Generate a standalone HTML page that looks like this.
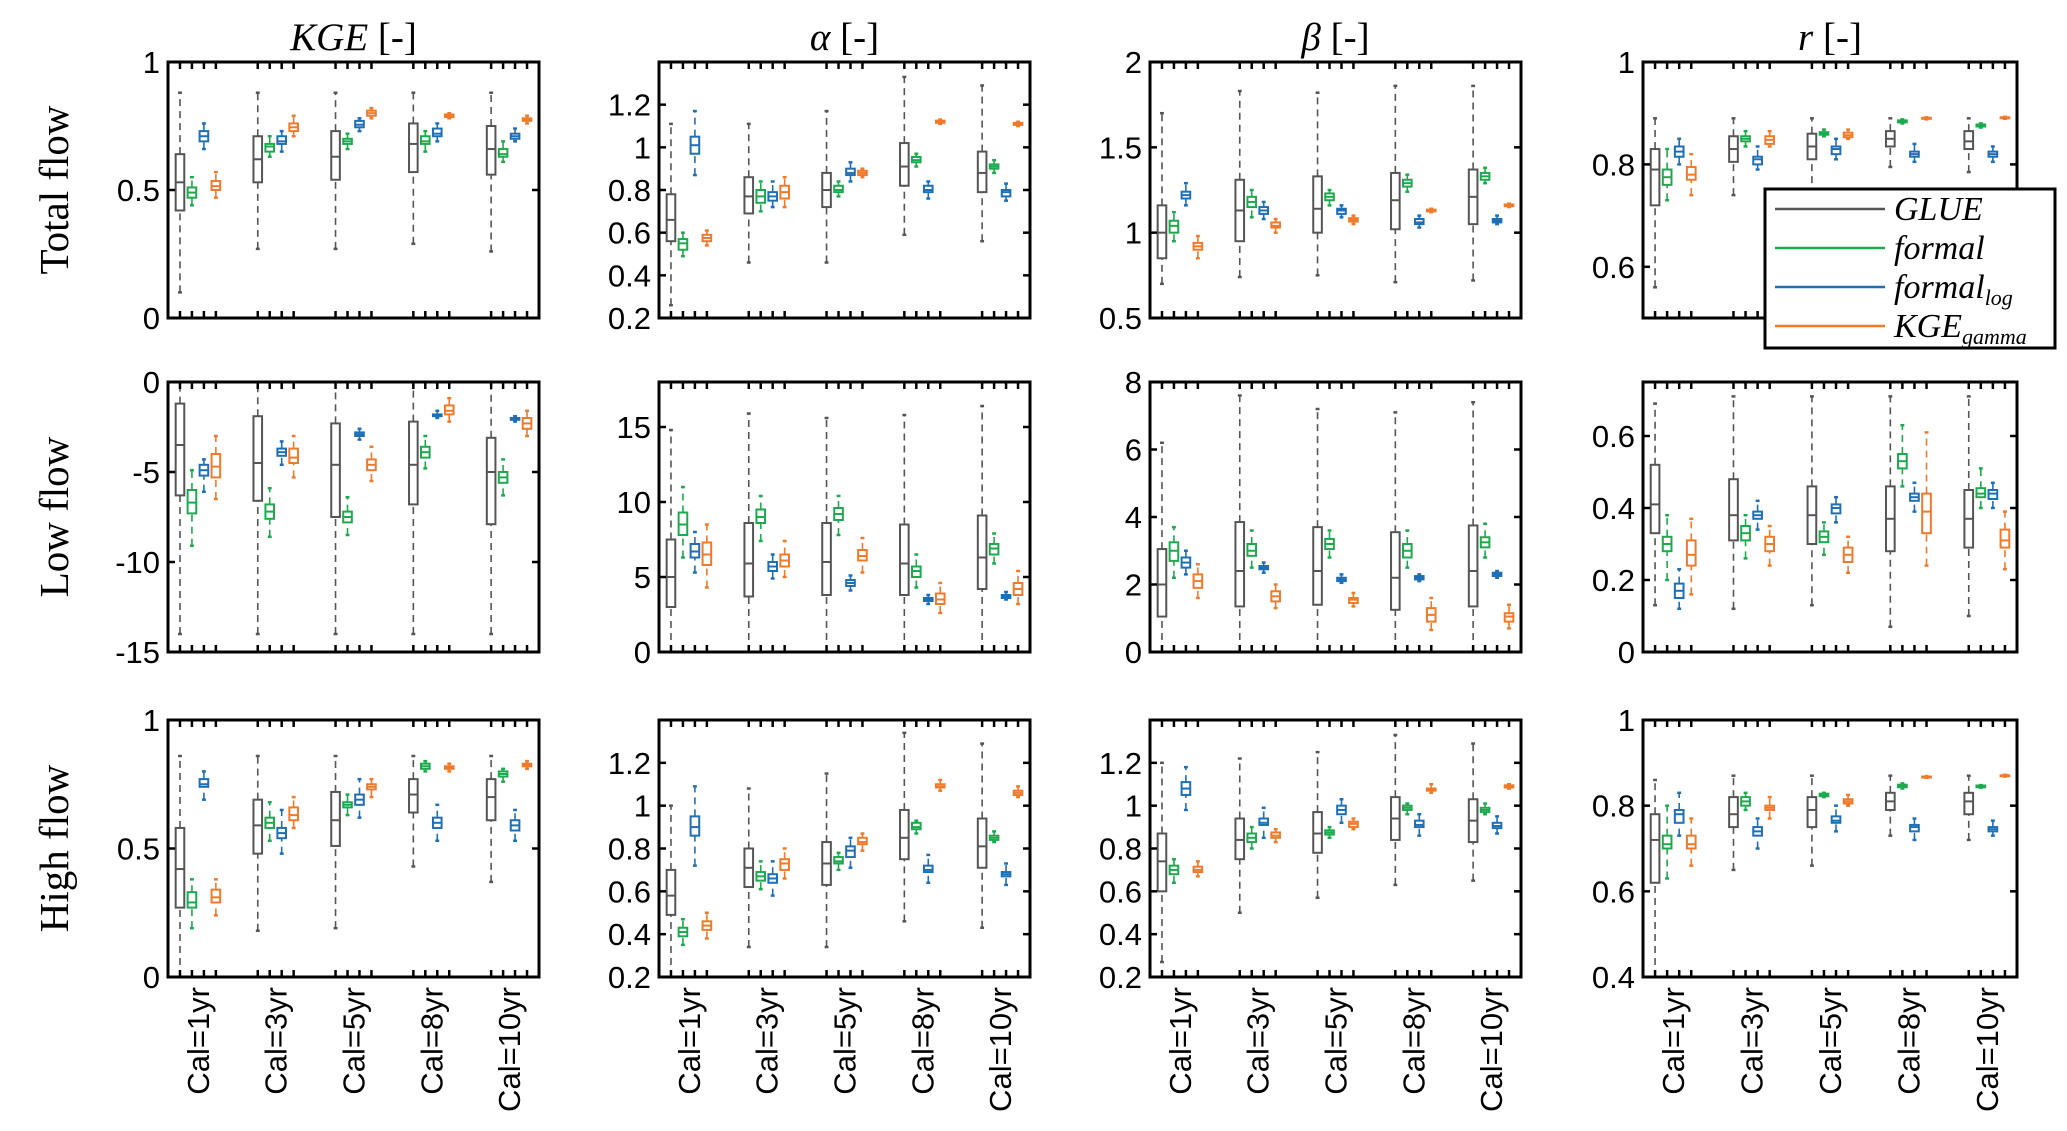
<!DOCTYPE html>
<html><head><meta charset="utf-8"><style>
html,body{margin:0;padding:0;background:#fff;}
svg{display:block;}
</style></head><body>
<svg id="chart" xmlns="http://www.w3.org/2000/svg" width="2067" height="1131" viewBox="0 0 2067 1131"></svg>
<script>
// ----- Data: [whiskerLow, q1, median, q3, whiskerHigh] per calibration group -----
const groups = ["Cal=1yr","Cal=3yr","Cal=5yr","Cal=8yr","Cal=10yr"];
const methods = ["GLUE","formal","formal_log","KGE_gamma"];
const rowNames = ["Total flow","Low flow","High flow"];

// Total flow - KGE
const totKGE_GLUE = [[0.10,0.42,0.53,0.64,0.88],[0.27,0.53,0.62,0.71,0.88],[0.27,0.54,0.63,0.73,0.88],[0.29,0.57,0.68,0.76,0.88],[0.26,0.56,0.66,0.75,0.88]];
const totKGE_formal = [[0.44,0.47,0.49,0.51,0.55],[0.63,0.65,0.67,0.68,0.71],[0.66,0.68,0.69,0.70,0.72],[0.65,0.68,0.69,0.71,0.73],[0.61,0.63,0.64,0.66,0.69]];
const totKGE_log = [[0.66,0.69,0.71,0.73,0.76],[0.65,0.68,0.69,0.71,0.73],[0.73,0.745,0.755,0.77,0.78],[0.69,0.71,0.72,0.74,0.76],[0.69,0.70,0.71,0.72,0.74]];
const totKGE_gamma = [[0.47,0.50,0.515,0.535,0.57],[0.71,0.73,0.745,0.76,0.79],[0.78,0.79,0.80,0.81,0.82],[0.78,0.785,0.79,0.795,0.80],[0.76,0.77,0.775,0.78,0.79]];
// Total flow - alpha
const totA_GLUE = [[0.26,0.56,0.66,0.78,1.11],[0.46,0.69,0.77,0.86,1.11],[0.46,0.72,0.80,0.88,1.17],[0.59,0.82,0.91,1.02,1.33],[0.56,0.79,0.88,0.98,1.29]];
const totA_formal = [[0.49,0.52,0.55,0.57,0.60],[0.70,0.74,0.77,0.80,0.84],[0.77,0.79,0.80,0.82,0.84],[0.91,0.93,0.94,0.955,0.97],[0.88,0.90,0.91,0.92,0.94]];
const totA_log = [[0.87,0.97,1.01,1.05,1.17],[0.72,0.75,0.77,0.79,0.84],[0.84,0.87,0.88,0.90,0.93],[0.76,0.79,0.80,0.82,0.84],[0.75,0.77,0.79,0.80,0.83]];
const totA_gamma = [[0.54,0.56,0.575,0.59,0.61],[0.72,0.76,0.79,0.82,0.86],[0.86,0.87,0.88,0.89,0.90],[1.11,1.115,1.12,1.125,1.13],[1.10,1.105,1.11,1.115,1.12]];
// Total flow - beta
const totB_GLUE = [[0.70,0.85,1.00,1.16,1.70],[0.74,0.95,1.13,1.31,1.83],[0.75,1.00,1.14,1.33,1.82],[0.71,1.02,1.19,1.35,1.86],[0.72,1.05,1.21,1.37,1.86]];
const totB_formal = [[0.95,1.00,1.04,1.07,1.12],[1.09,1.15,1.18,1.21,1.25],[1.16,1.19,1.21,1.23,1.25],[1.24,1.27,1.29,1.31,1.34],[1.29,1.31,1.33,1.35,1.38]];
const totB_log = [[1.16,1.20,1.22,1.24,1.29],[1.08,1.11,1.13,1.15,1.18],[1.09,1.11,1.13,1.14,1.16],[1.03,1.05,1.06,1.08,1.10],[1.05,1.06,1.07,1.08,1.10]];
const totB_gamma = [[0.85,0.90,0.92,0.94,0.98],[1.00,1.03,1.04,1.06,1.08],[1.05,1.065,1.075,1.085,1.10],[1.12,1.125,1.13,1.135,1.14],[1.15,1.155,1.16,1.165,1.17]];
// Total flow - r
const totR_GLUE = [[0.56,0.72,0.79,0.83,0.89],[0.74,0.805,0.83,0.855,0.89],[0.74,0.81,0.835,0.86,0.89],[0.795,0.835,0.85,0.865,0.89],[0.785,0.83,0.845,0.865,0.89]];
const totR_formal = [[0.73,0.76,0.775,0.79,0.83],[0.835,0.845,0.85,0.855,0.865],[0.855,0.858,0.86,0.863,0.868],[0.88,0.882,0.884,0.886,0.888],[0.872,0.874,0.876,0.878,0.88]];
const totR_log = [[0.80,0.815,0.825,0.835,0.85],[0.79,0.80,0.81,0.815,0.835],[0.81,0.82,0.83,0.835,0.85],[0.805,0.815,0.82,0.825,0.84],[0.805,0.815,0.82,0.825,0.835]];
const totR_gamma = [[0.74,0.77,0.78,0.795,0.82],[0.835,0.84,0.848,0.855,0.865],[0.85,0.853,0.857,0.862,0.868],[0.888,0.889,0.89,0.891,0.892],[0.889,0.89,0.891,0.892,0.893]];
// Low flow - KGE
const lowKGE_GLUE = [[-14,-6.3,-3.5,-1.2,0],[-14,-6.6,-4.5,-1.9,0],[-14,-7.5,-4.6,-2.3,0],[-14,-6.8,-4.6,-2.2,0],[-14,-7.9,-5.0,-3.1,0]];
const lowKGE_formal = [[-9.1,-7.3,-6.7,-6.0,-4.9],[-8.6,-7.6,-7.2,-6.8,-5.9],[-8.5,-7.8,-7.5,-7.2,-6.4],[-4.8,-4.2,-3.9,-3.6,-3.0],[-6.3,-5.6,-5.3,-5.0,-4.3]];
const lowKGE_log = [[-6.1,-5.2,-4.9,-4.6,-4.3],[-4.6,-4.1,-3.9,-3.7,-3.3],[-3.2,-3.0,-2.9,-2.8,-2.6],[-2.0,-1.9,-1.85,-1.8,-1.6],[-2.2,-2.1,-2.05,-2.0,-1.9]];
const lowKGE_gamma = [[-6.5,-5.3,-4.7,-4.0,-3.0],[-5.3,-4.5,-4.2,-3.7,-3.0],[-5.5,-4.9,-4.6,-4.3,-3.6],[-2.2,-1.8,-1.6,-1.3,-0.9],[-3.0,-2.6,-2.3,-2.0,-1.6]];
// Low flow - alpha
const lowA_GLUE = [[0,3.0,5.0,7.5,14.8],[0,3.7,5.9,8.6,15.9],[0,3.8,6.0,8.6,15.6],[0,3.8,5.9,8.5,15.8],[0,4.2,6.3,9.1,16.4]];
const lowA_formal = [[6.3,7.8,8.5,9.3,11.0],[7.4,8.6,9.0,9.5,10.4],[7.8,8.8,9.2,9.6,10.4],[4.3,5.0,5.4,5.7,6.5],[5.9,6.5,6.9,7.2,7.9]];
const lowA_log = [[5.3,6.3,6.7,7.2,8.0],[4.9,5.4,5.7,6.0,6.5],[4.1,4.4,4.6,4.8,5.1],[3.2,3.4,3.5,3.6,3.8],[3.5,3.6,3.7,3.8,4.0]];
const lowA_gamma = [[4.3,5.8,6.5,7.3,8.5],[5.0,5.7,6.1,6.5,7.4],[5.3,6.1,6.4,6.8,7.6],[2.6,3.2,3.5,3.9,4.6],[3.2,3.8,4.2,4.6,5.4]];
// Low flow - beta
const lowB_GLUE = [[0,1.05,2.0,3.05,6.2],[0,1.35,2.4,3.85,7.6],[0,1.4,2.4,3.7,7.2],[0,1.25,2.2,3.55,7.1],[0,1.35,2.4,3.75,7.4]];
const lowB_formal = [[2.2,2.7,3.0,3.25,3.7],[2.5,2.85,3.0,3.2,3.6],[2.8,3.05,3.2,3.35,3.6],[2.5,2.8,3.0,3.2,3.6],[2.8,3.1,3.25,3.4,3.8]];
const lowB_log = [[2.3,2.5,2.65,2.8,3.0],[2.35,2.45,2.5,2.55,2.65],[2.05,2.1,2.15,2.2,2.3],[2.1,2.15,2.2,2.25,2.3],[2.2,2.25,2.3,2.35,2.4]];
const lowB_gamma = [[1.6,1.9,2.1,2.3,2.6],[1.3,1.5,1.65,1.8,2.0],[1.35,1.45,1.55,1.6,1.75],[0.65,0.9,1.1,1.3,1.6],[0.7,0.9,1.05,1.15,1.4]];
// Low flow - r
const lowR_GLUE = [[0.13,0.33,0.41,0.52,0.69],[0.12,0.31,0.38,0.48,0.71],[0.13,0.30,0.38,0.46,0.71],[0.07,0.28,0.37,0.46,0.71],[0.10,0.29,0.37,0.45,0.71]];
const lowR_formal = [[0.20,0.28,0.30,0.32,0.38],[0.26,0.31,0.33,0.35,0.38],[0.27,0.305,0.32,0.335,0.36],[0.46,0.51,0.53,0.55,0.63],[0.40,0.43,0.44,0.455,0.51]];
const lowR_log = [[0.12,0.15,0.17,0.19,0.23],[0.34,0.37,0.38,0.39,0.42],[0.36,0.385,0.40,0.41,0.43],[0.39,0.42,0.43,0.44,0.47],[0.40,0.425,0.44,0.45,0.47]];
const lowR_gamma = [[0.16,0.24,0.27,0.31,0.37],[0.24,0.28,0.30,0.32,0.35],[0.22,0.25,0.27,0.29,0.32],[0.24,0.33,0.39,0.44,0.61],[0.23,0.29,0.31,0.34,0.39]];
// High flow - KGE
const hiKGE_GLUE = [[0,0.27,0.42,0.58,0.86],[0.18,0.48,0.59,0.69,0.86],[0.19,0.51,0.61,0.72,0.86],[0.43,0.64,0.71,0.77,0.86],[0.37,0.61,0.70,0.77,0.86]];
const hiKGE_formal = [[0.19,0.27,0.29,0.33,0.38],[0.53,0.58,0.60,0.62,0.68],[0.63,0.66,0.67,0.68,0.71],[0.80,0.81,0.82,0.83,0.84],[0.76,0.78,0.79,0.80,0.81]];
const hiKGE_log = [[0.69,0.74,0.75,0.77,0.80],[0.48,0.54,0.56,0.58,0.65],[0.62,0.67,0.69,0.71,0.77],[0.53,0.58,0.60,0.62,0.67],[0.53,0.57,0.59,0.61,0.65]];
const hiKGE_gamma = [[0.24,0.29,0.31,0.34,0.38],[0.58,0.61,0.63,0.66,0.70],[0.70,0.73,0.74,0.75,0.77],[0.80,0.81,0.815,0.82,0.83],[0.81,0.82,0.825,0.83,0.84]];
// High flow - alpha
const hiA_GLUE = [[0.20,0.49,0.58,0.70,1.00],[0.34,0.62,0.71,0.80,1.08],[0.34,0.63,0.73,0.83,1.15],[0.46,0.75,0.85,0.98,1.34],[0.43,0.71,0.81,0.94,1.29]];
const hiA_formal = [[0.35,0.39,0.41,0.43,0.47],[0.61,0.65,0.67,0.69,0.74],[0.70,0.73,0.74,0.76,0.78],[0.87,0.89,0.90,0.92,0.93],[0.83,0.84,0.85,0.86,0.88]];
const hiA_log = [[0.72,0.86,0.90,0.95,1.09],[0.58,0.64,0.66,0.68,0.74],[0.71,0.76,0.79,0.81,0.85],[0.64,0.69,0.70,0.72,0.77],[0.63,0.67,0.68,0.69,0.73]];
const hiA_gamma = [[0.38,0.42,0.44,0.46,0.50],[0.66,0.70,0.73,0.75,0.80],[0.79,0.82,0.83,0.85,0.87],[1.07,1.085,1.09,1.10,1.12],[1.04,1.05,1.06,1.07,1.09]];
// High flow - beta
const hiB_GLUE = [[0.27,0.60,0.74,0.87,1.20],[0.50,0.75,0.84,0.94,1.22],[0.57,0.78,0.87,0.97,1.25],[0.63,0.84,0.94,1.04,1.33],[0.65,0.83,0.93,1.03,1.29]];
const hiB_formal = [[0.64,0.68,0.70,0.72,0.75],[0.80,0.83,0.85,0.87,0.90],[0.85,0.865,0.875,0.885,0.90],[0.96,0.98,0.99,1.00,1.01],[0.96,0.97,0.98,0.99,1.01]];
const hiB_log = [[0.98,1.05,1.08,1.11,1.18],[0.85,0.91,0.92,0.94,0.99],[0.92,0.96,0.98,1.00,1.03],[0.86,0.90,0.91,0.93,0.96],[0.87,0.895,0.905,0.92,0.95]];
const hiB_gamma = [[0.67,0.69,0.70,0.715,0.74],[0.83,0.85,0.86,0.875,0.89],[0.89,0.90,0.915,0.925,0.94],[1.06,1.07,1.075,1.08,1.10],[1.08,1.085,1.09,1.095,1.10]];
// High flow - r
const hiR_GLUE = [[0.40,0.62,0.72,0.78,0.86],[0.65,0.75,0.78,0.82,0.87],[0.66,0.75,0.79,0.82,0.87],[0.73,0.79,0.81,0.83,0.87],[0.72,0.78,0.81,0.83,0.87]];
const hiR_formal = [[0.63,0.70,0.71,0.73,0.80],[0.79,0.80,0.81,0.82,0.83],[0.82,0.822,0.825,0.828,0.83],[0.84,0.843,0.846,0.849,0.852],[0.842,0.843,0.845,0.847,0.848]];
const hiR_log = [[0.73,0.76,0.78,0.79,0.83],[0.70,0.73,0.74,0.75,0.77],[0.74,0.76,0.765,0.775,0.80],[0.72,0.74,0.75,0.755,0.77],[0.73,0.74,0.745,0.75,0.765]];
const hiR_gamma = [[0.66,0.70,0.71,0.73,0.77],[0.77,0.79,0.795,0.80,0.82],[0.80,0.805,0.81,0.815,0.825],[0.865,0.866,0.867,0.868,0.869],[0.868,0.869,0.87,0.871,0.872]];

// Axis ranges and tick labels
const yRanges = [[[0,1],[0.2,1.4],[0.5,2],[0.5,1]],[[-15,0],[0,18],[0,8],[0,0.75]],[[0,1],[0.2,1.4],[0.2,1.4],[0.4,1]]];
const yTicks = [[[0,0.5,1],[0.2,0.4,0.6,0.8,1,1.2],[0.5,1,1.5,2],[0.6,0.8,1]],[[-15,-10,-5,0],[0,5,10,15],[0,2,4,6,8],[0,0.2,0.4,0.6]],[[0,0.5,1],[0.2,0.4,0.6,0.8,1,1.2],[0.2,0.4,0.6,0.8,1,1.2],[0.4,0.6,0.8,1]]];
const seriesSets = [
 [[totKGE_GLUE,totKGE_formal,totKGE_log,totKGE_gamma],[totA_GLUE,totA_formal,totA_log,totA_gamma],[totB_GLUE,totB_formal,totB_log,totB_gamma],[totR_GLUE,totR_formal,totR_log,totR_gamma]],
 [[lowKGE_GLUE,lowKGE_formal,lowKGE_log,lowKGE_gamma],[lowA_GLUE,lowA_formal,lowA_log,lowA_gamma],[lowB_GLUE,lowB_formal,lowB_log,lowB_gamma],[lowR_GLUE,lowR_formal,lowR_log,lowR_gamma]],
 [[hiKGE_GLUE,hiKGE_formal,hiKGE_log,hiKGE_gamma],[hiA_GLUE,hiA_formal,hiA_log,hiA_gamma],[hiB_GLUE,hiB_formal,hiB_log,hiB_gamma],[hiR_GLUE,hiR_formal,hiR_log,hiR_gamma]]
];

// ----- Layout -----
const colX = [[168,539],[659,1030],[1150,1521],[1643,2017]];
const rowY = [[62,318],[382,652],[720,977]];
const colors = ["#555555","#1daa4e","#1f6fb5","#f07a2a"];
const NS = "http://www.w3.org/2000/svg";
const svg = document.getElementById("chart");

function el(tag, attrs, parent){
  const e = document.createElementNS(NS, tag);
  for (const k in attrs) e.setAttribute(k, attrs[k]);
  (parent||svg).appendChild(e);
  return e;
}
function fmt(v){ return String(Math.round(v*100)/100); }

// column titles
const titles = [["KGE"," [-]"],["α"," [-]"],["β"," [-]"],["r","  [-]"]];
titles.forEach((t,c)=>{
  const cx=(colX[c][0]+colX[c][1])/2;
  const tx = el("text",{x:cx,y:50,"text-anchor":"middle","font-family":"Liberation Serif, serif","font-size":39,fill:"#000"});
  
  
  const a=document.createElementNS(NS,"tspan"); a.setAttribute("font-style","italic"); a.textContent=t[0]; tx.appendChild(a);
  const b=document.createElementNS(NS,"tspan"); b.textContent=t[1]; tx.appendChild(b);
});

// row labels
rowNames.forEach((n,r)=>{
  const cy=(rowY[r][0]+rowY[r][1])/2;
  const t = el("text",{x:0,y:0,transform:`translate(68,${cy}) rotate(-90)`,"text-anchor":"middle","font-family":"Liberation Serif, serif","font-size":41,fill:"#000"});
  
  
  t.textContent=n;
});

const XMAX = 31;
for (let r=0;r<3;r++){
  for (let c=0;c<4;c++){
    const [x0,x1]=colX[c], [y0,y1]=rowY[r];
    const [vmin,vmax]=yRanges[r][c];
    const xs = p => x0 + p/XMAX*(x1-x0);
    const ys = v => y1 - (v-vmin)/(vmax-vmin)*(y1-y0);
    const g = el("g",{});
    
    
    const sets = seriesSets[r][c];
    for (let m=0;m<4;m++){
      const col = colors[m];
      sets[m].forEach((d,gi)=>{
        const p = gi*6.5 + 1 + m;
        const cx = xs(p), hw = xs(0.36)-xs(0);
        const bg = el("g",{stroke:col,"stroke-width":2,fill:"none"},g);
        
        
        el("line",{x1:cx,x2:cx,y1:ys(d[0]),y2:ys(d[1]),"stroke-dasharray":"7,5","stroke-width":1.6},bg);
        el("line",{x1:cx,x2:cx,y1:ys(d[3]),y2:ys(d[4]),"stroke-dasharray":"7,5","stroke-width":1.6},bg);
        el("line",{x1:cx-hw*0.45,x2:cx+hw*0.45,y1:ys(d[0]),y2:ys(d[0]),"stroke-width":2.5},bg);
        el("line",{x1:cx-hw*0.45,x2:cx+hw*0.45,y1:ys(d[4]),y2:ys(d[4]),"stroke-width":2.5},bg);
        el("rect",{x:cx-hw,y:ys(d[3]),width:2*hw,height:Math.max(1,ys(d[1])-ys(d[3]))},bg);
        el("line",{x1:cx-hw,x2:cx+hw,y1:ys(d[2]),y2:ys(d[2])},bg);
      });
    }
    const fr = el("rect",{x:x0,y:y0,width:x1-x0,height:y1-y0,fill:"none",stroke:"#000","stroke-width":3},g);
    
    
    for (let gi=0;gi<5;gi++) for (let m=0;m<4;m++){
      const x = xs(gi*6.5+1+m);
      el("line",{x1:x,x2:x,y1:y1,y2:y1-7,stroke:"#000","stroke-width":2.5},g);
      el("line",{x1:x,x2:x,y1:y0,y2:y0+7,stroke:"#000","stroke-width":2.5},g);
    }
    yTicks[r][c].forEach(v=>{
      const y = ys(v);
      el("line",{x1:x0,x2:x0+7,y1:y,y2:y,stroke:"#000","stroke-width":2.5},g);
      el("line",{x1:x1,x2:x1-7,y1:y,y2:y,stroke:"#000","stroke-width":2.5},g);
      const t = el("text",{x:x0-8,y:y+11,"text-anchor":"end","font-family":"Liberation Sans, sans-serif","font-size":31,fill:"#000"},g);
      
      
      t.textContent = fmt(v);
    });
    if (r===2){
      groups.forEach((lab,gi)=>{
        const x = xs(gi*6.5+2.5);
        const t = el("text",{x:0,y:0,transform:`translate(${x+11},${y1+10}) rotate(-90)`,"text-anchor":"end","font-family":"Liberation Sans, sans-serif","font-size":31,fill:"#000"},g);
        
        
        t.textContent = lab;
      });
    }
  }
}

// legend
const lg = el("g",{});


el("rect",{x:1765,y:189,width:290,height:159,fill:"#fff",stroke:"#000","stroke-width":3},lg);
const legLabels = [["GLUE",""],["formal",""],["formal","log"],["KGE","gamma"]];
legLabels.forEach((l,i)=>{
  const y = 209 + i*39;
  const e = el("g",{},lg);
  
  
  el("line",{x1:1775,x2:1885,y1:y,y2:y,stroke:colors[i],"stroke-width":2.5},e);
  const t = el("text",{x:1894,y:y+11,"font-family":"Liberation Serif, serif","font-style":"italic","font-size":34,fill:"#000"},e);
  const a=document.createElementNS(NS,"tspan"); a.textContent=l[0]; t.appendChild(a);
  if (l[1]){ const b=document.createElementNS(NS,"tspan"); b.setAttribute("font-size","22"); b.setAttribute("dy","7"); b.textContent=l[1]; t.appendChild(b); }
});
</script>
</body></html>
